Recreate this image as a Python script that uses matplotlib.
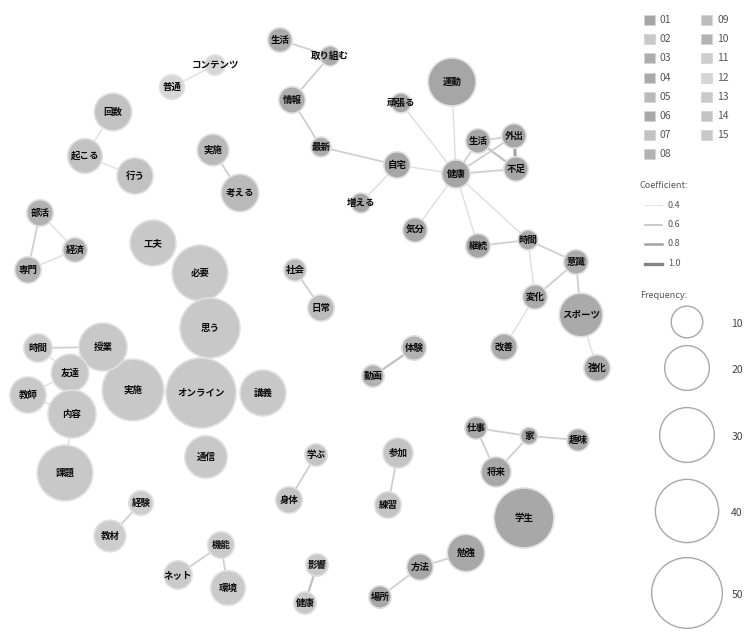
import matplotlib
matplotlib.use("Agg")
import matplotlib.pyplot as plt
from matplotlib.patches import Circle, Rectangle
import numpy as np

plt.rcParams['font.family'] = ['Noto Sans CJK JP', 'DejaVu Sans']

# ---------------- data ----------------
words = ["生活", "取り組む", "情報", "最新", "コンテンツ", "普通", "回数", "起こる", "行う",
         "実施", "考える", "部活", "経済", "専門", "工夫", "必要", "思う", "オンライン",
         "授業", "講義", "実習", "時間", "友達", "教師", "内容", "課題", "通信", "経験",
         "教材", "ネット", "機械", "環境", "学ぶ", "身体", "影響", "健康診断", "社会", "日常",
         "体験", "動画", "運動", "頑張る", "自宅", "健康", "生活習慣", "外出", "不足",
         "増える", "気分", "継続", "時間帯", "意識", "変化", "スポーツ", "改善", "強化",
         "仕事", "家", "趣味", "将来", "学生", "参加", "練習", "勉強", "方法", "場所"]
freq = [6, 4, 7, 4, 4, 6, 14, 12, 13,
        10, 14, 7, 6, 7, 21, 31, 36, 49,
        38, 21, 23, 8, 14, 13, 23, 31, 18, 6,
        10, 8, 7, 12, 5, 7, 5, 5, 5, 7,
        6, 5, 23, 4, 7, 8, 6, 6, 6,
        4, 6, 6, 4, 6, 6, 19, 7, 7,
        5, 3, 5, 9, 36, 9, 7, 14, 7, 5]
group = [3, 3, 3, 3, 12, 12, 7, 7, 7,
         5, 5, 8, 8, 8, 2, 2, 2, 2,
         2, 2, 2, 2, 2, 2, 2, 2, 2, 11,
         11, 13, 13, 13, 14, 14, 15, 15, 9, 9,
         10, 10, 1, 1, 1, 1, 1, 1, 1,
         1, 1, 1, 4, 4, 4, 4, 4, 4,
         6, 6, 6, 6, 6, 14, 14, 6, 6, 6]
edges = [("生活", "取り組む", 0.5), ("取り組む", "情報", 0.5), ("情報", "最新", 0.5),
         ("最新", "自宅", 0.5), ("コンテンツ", "普通", 0.4), ("回数", "起こる", 0.4),
         ("起こる", "行う", 0.4), ("実施", "考える", 0.5), ("部活", "専門", 0.5),
         ("部活", "経済", 0.4), ("専門", "経済", 0.4), ("必要", "思う", 0.4),
         ("思う", "オンライン", 0.4), ("授業", "オンライン", 0.4), ("時間", "実習", 0.5),
         ("時間", "友達", 0.4), ("友達", "実習", 0.4), ("教師", "友達", 0.4),
         ("教師", "内容", 0.4), ("友達", "内容", 0.4), ("内容", "課題", 0.4),
         ("経験", "教材", 0.5), ("機械", "ネット", 0.5), ("機械", "環境", 0.5),
         ("学ぶ", "身体", 0.5), ("影響", "健康診断", 0.6), ("社会", "日常", 0.5),
         ("体験", "動画", 0.6), ("運動", "健康", 0.4), ("頑張る", "健康", 0.4),
         ("自宅", "健康", 0.4), ("健康", "生活習慣", 0.5), ("健康", "不足", 0.5),
         ("生活習慣", "外出", 0.5), ("生活習慣", "不足", 0.6), ("外出", "不足", 0.8),
         ("健康", "外出", 0.5), ("自宅", "増える", 0.4), ("健康", "気分", 0.4),
         ("健康", "継続", 0.4), ("健康", "時間帯", 0.4), ("継続", "時間帯", 0.5),
         ("時間帯", "意識", 0.5), ("時間帯", "変化", 0.4), ("意識", "変化", 0.5),
         ("意識", "スポーツ", 0.5), ("変化", "改善", 0.4), ("スポーツ", "強化", 0.4),
         ("仕事", "家", 0.5), ("家", "趣味", 0.5), ("仕事", "将来", 0.5),
         ("家", "将来", 0.5), ("参加", "練習", 0.5), ("勉強", "方法", 0.5),
         ("方法", "場所", 0.5)]
group_labels = ["01", "02", "03", "04", "05", "06", "07", "08",
                "09", "10", "11", "12", "13", "14", "15"]
coef_levels = [0.4, 0.6, 0.8, 1.0]
freq_levels = [10, 20, 30, 40, 50]

# ---------------- layout (pixel coordinates of the layout engine) ----------------
layout = {
    "生活": (280, 40), "取り組む": (330, 56), "情報": (292, 100), "最新": (321, 147),
    "コンテンツ": (215, 65), "普通": (172, 87), "回数": (113, 112), "起こる": (85, 156),
    "行う": (135, 176), "実施": (213, 150), "考える": (240, 193), "部活": (40, 213),
    "経済": (75, 250), "専門": (28, 270), "工夫": (153, 243), "必要": (200, 273),
    "思う": (210, 328), "オンライン": (201, 393), "授業": (133, 390), "講義": (263, 393),
    "実習": (103, 347), "時間": (38, 348), "友達": (70, 373), "教師": (28, 395),
    "内容": (72, 414), "課題": (65, 473), "通信": (206, 457), "経験": (141, 503),
    "教材": (110, 536), "ネット": (178, 575), "機械": (221, 545), "環境": (228, 588),
    "学ぶ": (316, 455), "身体": (289, 500), "影響": (317, 565), "健康診断": (305, 603),
    "社会": (295, 270), "日常": (321, 308), "体験": (414, 348), "動画": (373, 376),
    "運動": (452, 82), "頑張る": (401, 103), "自宅": (397, 165), "健康": (456, 174),
    "生活習慣": (478, 141), "外出": (514, 136), "不足": (516, 169), "増える": (361, 203),
    "気分": (415, 230), "継続": (478, 246), "時間帯": (528, 240), "意識": (576, 262),
    "変化": (535, 297), "スポーツ": (581, 315), "改善": (504, 347), "強化": (597, 368),
    "仕事": (476, 428), "家": (529, 436), "趣味": (578, 440), "将来": (496, 472),
    "学生": (524, 518), "参加": (398, 453), "練習": (388, 505), "勉強": (466, 553),
    "方法": (420, 567), "場所": (380, 597),
}
display = {"健康診断": "健康", "生活習慣": "生活", "時間帯": "時間", "機械": "機能",
           "実習": "授業", "授業": "実施"}

group_colors = {1: "#a6a6a6", 2: "#c8c8c8", 3: "#acacac", 4: "#aaaaaa", 5: "#bababa",
                6: "#a8a8a8", 7: "#c2c2c2", 8: "#b2b2b2", 9: "#bcbcbc", 10: "#b2b2b2",
                11: "#cdcdcd", 12: "#d6d6d6", 13: "#cacaca", 14: "#c4c4c4", 15: "#c8c8c8"}

W, H = 747, 632
fig = plt.figure(figsize=(W / 100, H / 100), dpi=100)
ax = fig.add_axes([0, 0, 1, 1])
ax.set_xlim(0, W)
ax.set_ylim(H, 0)
ax.set_aspect("equal")
ax.axis("off")

def radius(f):
    return 5.0 * np.sqrt(f)

def lw_of(c):
    return 0.6 + (c - 0.4) * 3.0

def ec_of(c):
    v = int(222 - (c - 0.4) * 150)
    return "#%02x%02x%02x" % (v, v, v)

for a, b, c in edges:
    (x1, y1), (x2, y2) = layout[a], layout[b]
    ax.plot([x1, x2], [y1, y2], color=ec_of(c), lw=lw_of(c) + 0.4, zorder=1,
            solid_capstyle="round")

for w, f, g in zip(words, freq, group):
    x, y = layout[w]
    r = radius(f)
    ax.add_patch(Circle((x, y), r, facecolor=group_colors[g],
                        edgecolor="#e0e0e0", lw=1.2, zorder=2))
    ax.text(x, y, display.get(w, w), ha="center", va="center", fontsize=6.8,
            fontweight="bold", color="#0a0a0a", zorder=3)

# ---------------- legend: groups ----------------
for i, lab in enumerate(group_labels):
    col = 0 if i < 8 else 1
    row = i if i < 8 else i - 8
    x0 = 644 if col == 0 else 701
    y0 = 20 + row * 19.2
    ax.add_patch(Rectangle((x0, y0 - 5), 11, 10, facecolor=group_colors[i + 1],
                           edgecolor="#d4d4d4", lw=0.6))
    ax.text(x0 + 16, y0, lab, ha="left", va="center", fontsize=7.5, color="#555555")

ax.text(640, 185, "Coefficient:", ha="left", va="center", fontsize=6.5, color="#555555")
for i, c in enumerate(coef_levels):
    y0 = 205 + i * 19.5
    ax.plot([645, 662], [y0, y0], color=ec_of(c), lw=lw_of(c))
    ax.text(668, y0, f"{c:.1f}", ha="left", va="center", fontsize=6.5, color="#555555")

ax.text(640, 295, "Frequency:", ha="left", va="center", fontsize=6.5, color="#555555")
freq_y = [322, 368, 435, 511, 593]
for f, y0 in zip(freq_levels, freq_y):
    ax.add_patch(Circle((687, y0), radius(f), facecolor="white", edgecolor="#a8a8a8",
                        lw=1.0))
    ax.text(737, y0 + 2, str(f), ha="center", va="center", fontsize=7.5, color="#444444")

fig.savefig("out.png", dpi=100, facecolor="white")
